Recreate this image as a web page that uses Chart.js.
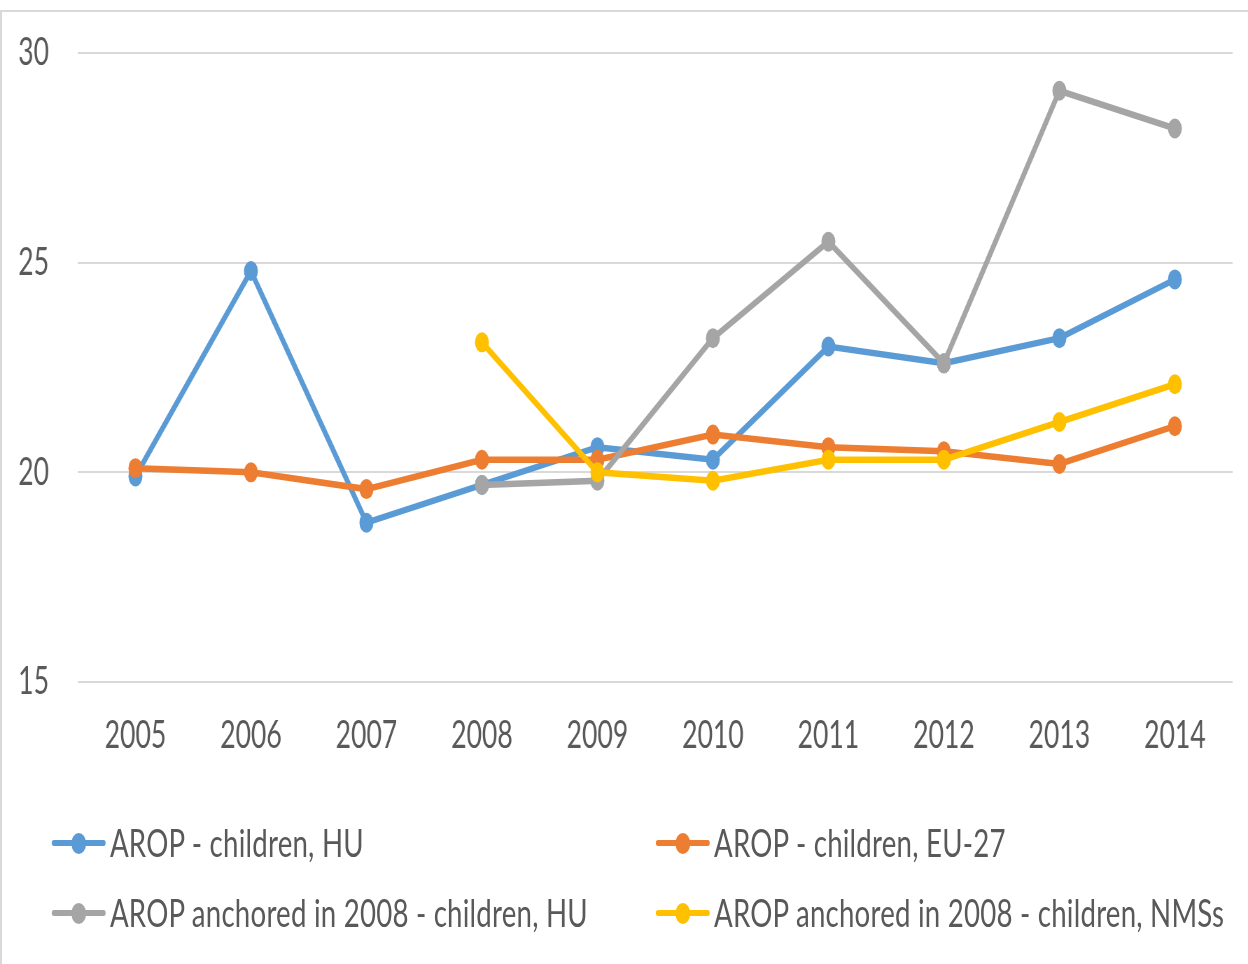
<!DOCTYPE html>
<html>
<head>
<meta charset="utf-8">
<script src="https://cdn.jsdelivr.net/npm/chart.js@4"></script>
<style>
  html, body { margin:0; padding:0; background:#fff; overflow:hidden; }
  #wrap { position:relative; width:1248px; height:964px; overflow:hidden; }
  #frame { position:absolute; left:0; top:10px; width:1300px; height:1000px; border-top:2px solid #d9d9d9; border-left:2px solid #d9d9d9; box-sizing:border-box; }
  #c { position:absolute; left:0; top:0; }
  #legend { position:absolute; left:0; top:0; width:1783px; height:964px; transform:scaleX(0.7); transform-origin:0 0; font-family:Lato, "Open Sans", sans-serif; font-size:39.5px; color:#595959; }
  .item { position:absolute; height:0; }
  .line { position:absolute; left:0; width:77px; height:6px; top:-3px; border-radius:3px; }
  .dot { position:absolute; left:28px; width:21px; height:21px; top:-10.5px; border-radius:50%; }
  .txt { position:absolute; left:83px; top:-24px; line-height:46px; white-space:nowrap; letter-spacing:0.3px; }
</style>
</head>
<body>
<div id="wrap">
  <div id="frame"></div>
  <canvas id="c" width="1783" height="964" style="width:1248px;height:964px;"></canvas>
  <div id="legend"></div>
</div>
<script>
const years = ["2005","2006","2007","2008","2009","2010","2011","2012","2013","2014"];
const seriesNames = [
  "AROP - children, HU",
  "AROP - children, EU-27",
  "AROP anchored in 2008 - children, HU",
  "AROP anchored in 2008 - children, NMSs"
];
const aropHU    = [19.9, 24.8, 18.8, 19.7, 20.6, 20.3, 23.0, 22.6, 23.2, 24.6];
const aropEU27  = [20.1, 20.0, 19.6, 20.3, 20.3, 20.9, 20.6, 20.5, 20.2, 21.1];
const anchHU    = [null, null, null, 19.7, 19.8, 23.2, 25.5, 22.6, 29.1, 28.2];
const anchNMS   = [null, null, null, 23.1, 20.0, 19.8, 20.3, 20.3, 21.2, 22.1];
const yTicks = [15, 20, 25, 30];
const colors = ["#5b9bd5", "#ed7d31", "#a5a5a5", "#ffc000"];

const FONT = { family: "Lato, 'Open Sans', sans-serif", size: 38 };
const values = [aropHU, aropEU27, anchHU, anchNMS];
const orders = [4, 3, 2, 1];

const datasets = values.map((v, i) => ({
  label: seriesNames[i],
  data: v,
  borderColor: colors[i],
  backgroundColor: colors[i],
  pointBackgroundColor: colors[i],
  pointBorderWidth: 0,
  pointRadius: 10,
  pointHoverRadius: 10,
  borderWidth: 6.5,
  tension: 0,
  order: orders[i],
  spanGaps: false
}));

new Chart(document.getElementById('c'), {
  type: 'line',
  data: { labels: years, datasets },
  options: {
    responsive: false,
    animation: false,
    devicePixelRatio: 1,
    layout: { padding: { top: 53, right: 22, bottom: 182, left: 0 } },
    plugins: { legend: { display: false }, tooltip: { enabled: false } },
    scales: {
      x: {
        type: 'category',
        offset: true,
        grid: { display: false, drawTicks: false },
        border: { display: false },
        ticks: { color: '#595959', font: FONT, padding: 31, maxRotation: 0, autoSkip: false },
        afterFit: s => { s.height = 100; s.paddingLeft = 0; s.paddingRight = 0; }
      },
      y: {
        min: 15, max: 30,
        afterBuildTicks: s => { s.ticks = yTicks.map(v => ({ value: v })); },
        grid: { color: '#d9d9d9', lineWidth: 2, drawTicks: false },
        border: { display: false },
        ticks: { color: '#595959', font: FONT, padding: 41 },
        afterFit: s => { s.width = 111; s.paddingTop = 0; s.paddingBottom = 0; }
      }
    }
  }
});

// HTML legend (two columns)
const legend = document.getElementById('legend');
const pos = [[74, 843], [937, 843], [74, 913], [937, 913]];
seriesNames.forEach((name, i) => {
  const it = document.createElement('div');
  it.className = 'item';
  it.style.left = pos[i][0] + 'px';
  it.style.top = pos[i][1] + 'px';
  it.innerHTML = '<div class="line" style="background:' + colors[i] + '"></div>' +
                 '<div class="dot" style="background:' + colors[i] + '"></div>' +
                 '<div class="txt"></div>';
  it.querySelector('.txt').textContent = name;
  legend.appendChild(it);
});
</script>
</body>
</html>
